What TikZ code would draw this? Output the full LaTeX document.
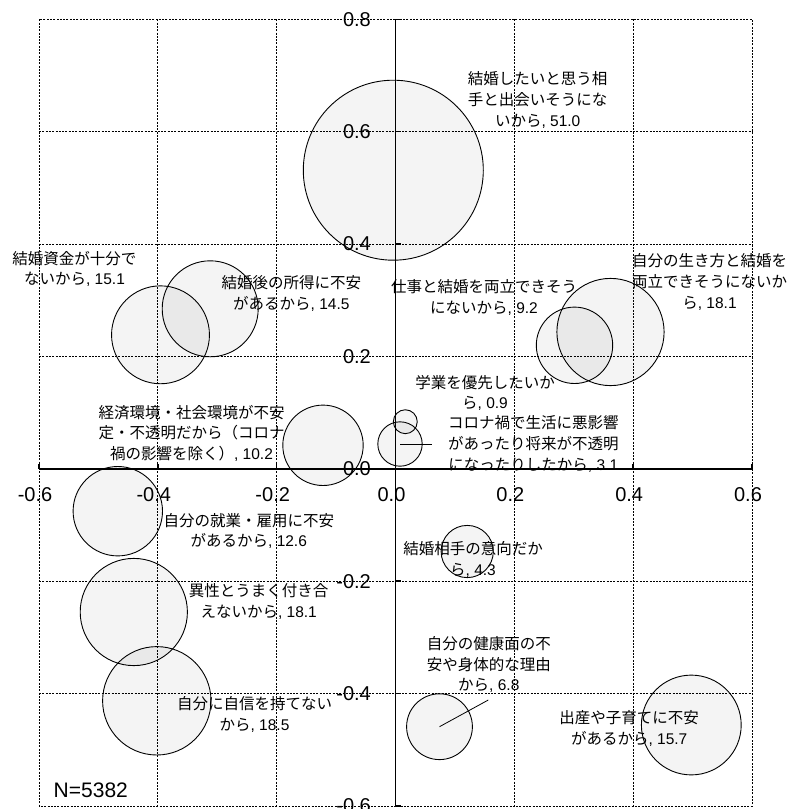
\documentclass[tikz,border=0pt]{standalone}
\usepackage{fontspec}
\setmainfont{Liberation Sans}
\newfontfamily\jp{Noto Sans CJK JP}
\begin{document}
\begin{tikzpicture}[x=1pt,y=-1pt,
  gridline/.style={line width=0.7pt, dash pattern=on 2pt off 1.3pt},
  axisline/.style={line width=1.8pt},
  tickline/.style={line width=1.5pt},
  bubble/.style={circle, draw=black, line width=0.9pt, fill=black, fill opacity=0.045, text opacity=1, inner sep=0pt, outer sep=0pt},
  lbl/.style={align=center, inner sep=0pt, font=\fontsize{15.5}{20.7}\selectfont},
  tk/.style={inner sep=0pt, font=\fontsize{20}{24}\selectfont},
  leader/.style={line width=0.8pt}]
\useasboundingbox (0,0) rectangle (791,809);
% grid
\draw[gridline] (39,19.3) rectangle (752,806);
\foreach \gx in {157.8,276.7,514.3,633.2} \draw[gridline] (\gx,19.3) -- (\gx,806);
\foreach \gy in {131.7,244.0,356.4,581.2,693.6} \draw[gridline] (39,\gy) -- (752,\gy);
% axes
\draw[axisline] (39,468.8) -- (752,468.8);
\draw[axisline] (395.5,19.3) -- (395.5,806);
\foreach \gx in {39,157.8,276.7,514.3,633.2,752} \draw[tickline] (\gx,468.8) -- (\gx,463.5);
\foreach \gy in {19.3,131.7,244.0,356.4,581.2,693.6,806} \draw[tickline] (395.5,\gy) -- (401,\gy);
% tick labels
\node[tk] (xa) at (35,495) {-0.6};
\node[tk] (xb) at (153.8,495) {-0.4};
\node[tk] (xc) at (272.7,495) {-0.2};
\node[tk] (xd) at (391.5,495) {0.0};
\node[tk] (xe) at (510.3,495) {0.2};
\node[tk] (xf) at (629.2,495) {0.4};
\node[tk] (xg) at (748,495) {0.6};
\node[tk,anchor=east] (ya) at (371,19.3) {0.8};
\node[tk,anchor=east] (yb) at (371,131.7) {0.6};
\node[tk,anchor=east] (yc) at (371,244.0) {0.4};
\node[tk,anchor=east] (yd) at (371,356.4) {0.2};
\node[tk,anchor=east] (ye) at (371,468.8) {0.0};
\node[tk,anchor=east] (yf) at (371,581.2) {-0.2};
\node[tk,anchor=east] (yg) at (371,693.6) {-0.4};
\node[tk,anchor=east] (yh) at (371,806) {-0.6};
% bubbles
\node[bubble, minimum size=180pt] (c1) at (393.3,170.2) {};
\node[bubble, minimum size=97.9pt] (c2) at (160.5,334.8) {};
\node[bubble, minimum size=96pt] (c3) at (210.2,308.8) {};
\node[bubble, minimum size=107.2pt] (c5) at (610.5,332) {};
\node[bubble, minimum size=76.4pt] (c4) at (574.5,345.3) {};
\node[bubble, minimum size=23.9pt] (c6) at (405.3,421.7) {};
\node[bubble, minimum size=44.4pt] (c7) at (400,444) {};
\node[bubble, minimum size=80.4pt] (c8) at (323,445.3) {};
\node[bubble, minimum size=89.4pt] (c9) at (117.8,511.2) {};
\node[bubble, minimum size=52.2pt] (c10) at (467.2,551.5) {};
\node[bubble, minimum size=107.2pt] (c11) at (133.8,612) {};
\node[bubble, minimum size=108.4pt] (c12) at (156.8,700.8) {};
\node[bubble, minimum size=65.8pt] (c13) at (439.5,726.7) {};
\node[bubble, minimum size=99.8pt] (c14) at (691.3,725) {};
% leaders
\coordinate (e7) at (431.7,444);
\coordinate (e13) at (488.3,700);
\draw[leader] (c7.center) -- (e7);
\draw[leader] (c13.center) -- (e13);
% labels
\node[lbl] (l1) at (537.7,99.9) {{\jp 結婚したいと思う相}\\{\jp 手と出会いそうにな}\\{\jp いから}, 51.0};
\node[lbl] (l2) at (74.5,268.8) {{\jp 結婚資金が十分で}\\{\jp ないから}, 15.1};
\node[lbl] (l3) at (291.3,293.2) {{\jp 結婚後の所得に不安}\\{\jp があるから}, 14.5};
\node[lbl] (l4) at (484,297.5) {{\jp 仕事と結婚を両立できそう}\\{\jp にないから}, 9.2};
\node[lbl] (l5) at (709.5,281.8) {{\jp 自分の生き方と結婚を}\\{\jp 両立できそうにないか}\\{\jp ら}, 18.1};
\node[lbl] (l6) at (485,392.8) {{\jp 学業を優先したいか}\\{\jp ら}, 0.9};
\node[lbl] (l7) at (533.3,444.1) {{\jp コロナ禍で生活に悪影響}\\{\jp があったり将来が不透明}\\{\jp になったりしたから}, 3.1};
\node[lbl] (l8) at (191.5,433.3) {{\jp 経済環境・社会環境が不安}\\{\jp 定・不透明だから（コロナ}\\{\jp 禍の影響を除く）}, 10.2};
\node[lbl] (l9) at (248.8,530.9) {{\jp 自分の就業・雇用に不安}\\{\jp があるから}, 12.6};
\node[lbl] (l10) at (473,559.2) {{\jp 結婚相手の意向だか}\\{\jp ら}, 4.3};
\node[lbl] (l11) at (258.7,601.7) {{\jp 異性とうまく付き合}\\{\jp えないから}, 18.1};
\node[lbl] (l12) at (254.5,714.7) {{\jp 自分に自信を持てない}\\{\jp から}, 18.5};
\node[lbl] (l13) at (488.8,664.7) {{\jp 自分の健康面の不}\\{\jp 安や身体的な理由}\\{\jp から}, 6.8};
\node[lbl] (l14) at (629.2,728.8) {{\jp 出産や子育てに不安}\\{\jp があるから}, 15.7};
\node[inner sep=0pt, font=\fontsize{21}{25}\selectfont] (n) at (90.8,790.7) {N=5382};
\end{tikzpicture}
\end{document}
